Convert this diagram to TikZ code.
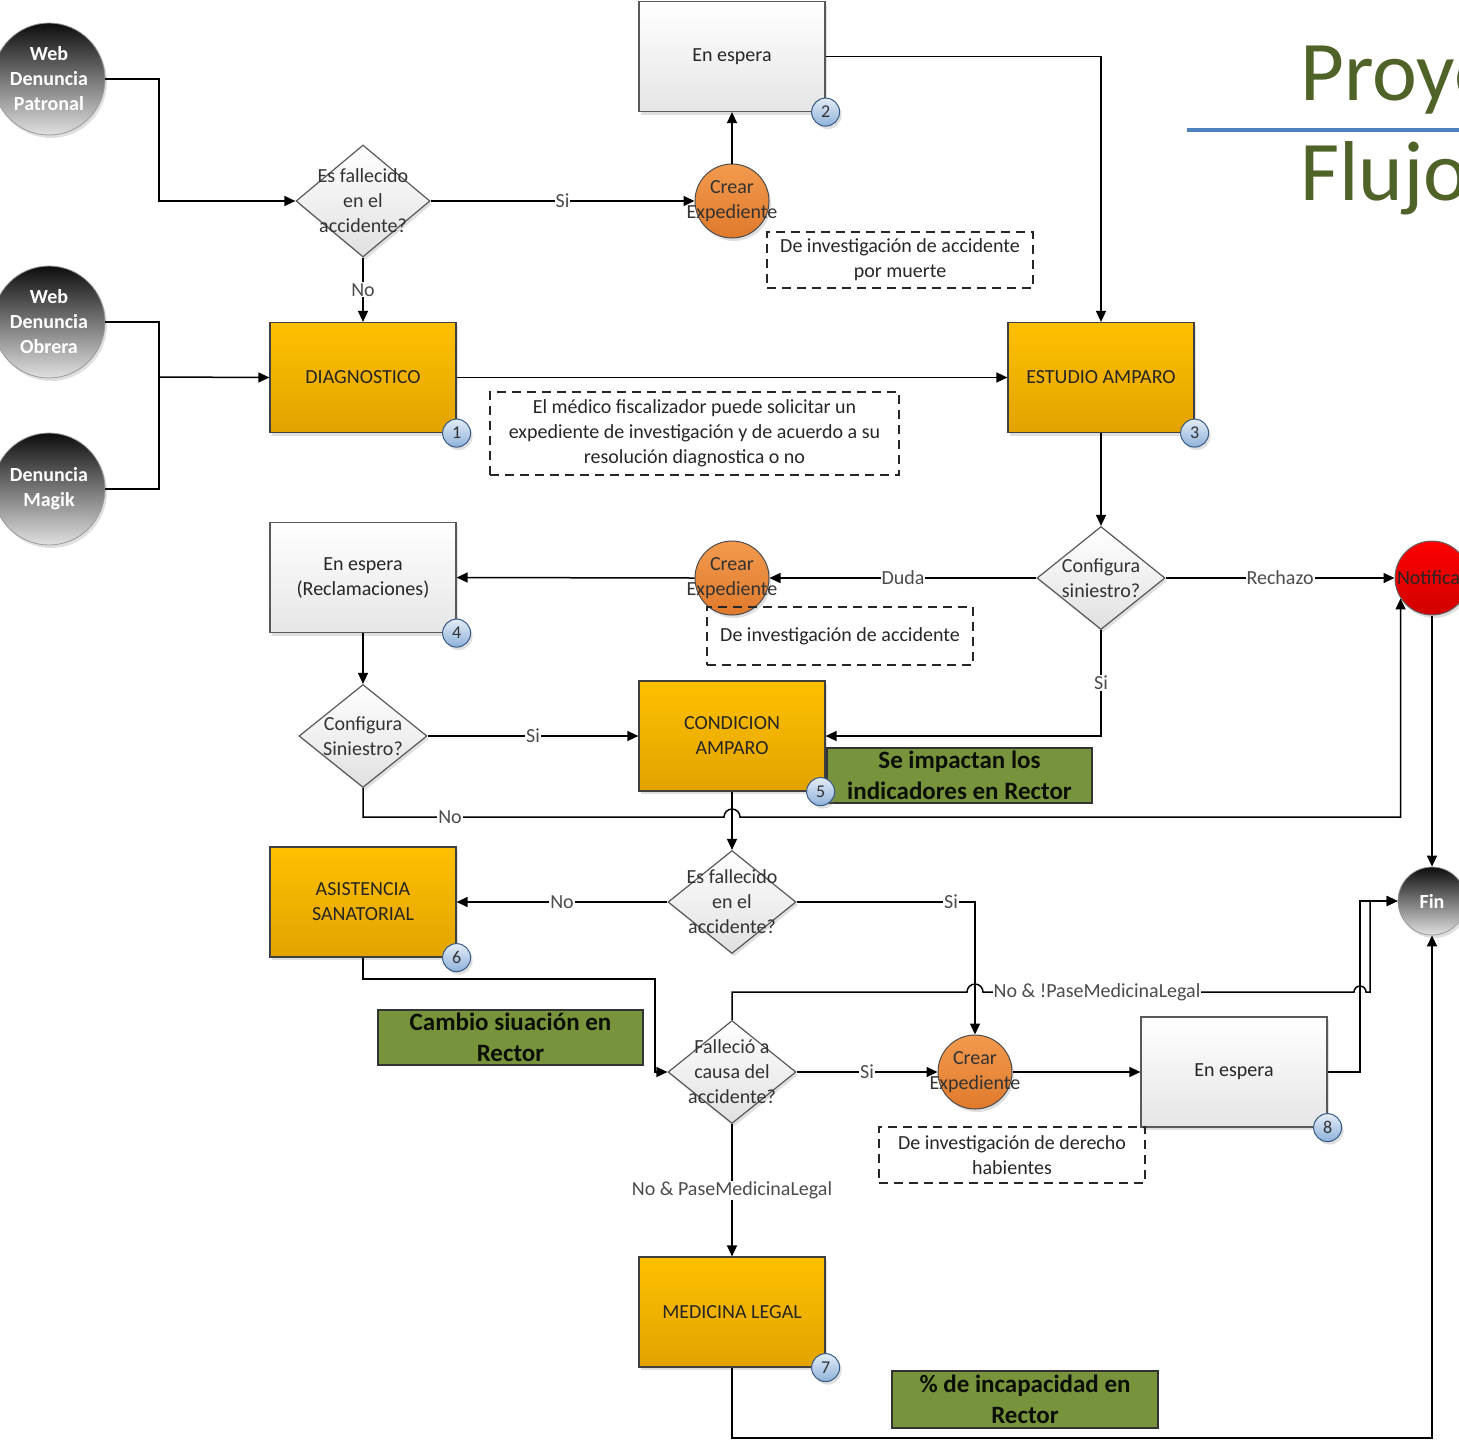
\documentclass[tikz,border=0pt]{standalone}
\usepackage{fontspec}
\setmainfont{Carlito}
\usetikzlibrary{arrows.meta,positioning,shapes.geometric,shadows}

\definecolor{golda}{HTML}{FFC000}
\definecolor{goldb}{HTML}{E2A300}
\definecolor{expa}{HTML}{F29A4E}
\definecolor{expb}{HTML}{E07A2C}
\definecolor{olive}{HTML}{77933C}
\definecolor{titlegreen}{HTML}{4F6228}
\definecolor{rulebl}{HTML}{4F81BD}
\definecolor{badgea}{HTML}{E3ECF6}
\definecolor{badgeb}{HTML}{8EB2DA}

\begin{document}
\begin{tikzpicture}[x=1pt,y=-1pt,->,>={Triangle[length=11pt,width=10pt]},
                    line width=1.5pt,font=\fontsize{20}{25}\selectfont]
  \tikzstyle{shad}=[drop shadow={shadow xshift=2pt,shadow yshift=-3pt,opacity=0.25}]
  \tikzstyle{proc}=[rectangle,draw=black!75,line width=1.2pt,top color=golda,bottom color=goldb,
                    minimum width=186pt,minimum height=110pt,align=center,text=black!85,shad]
  \tikzstyle{wait}=[rectangle,draw=black!65,line width=1.2pt,top color=white,bottom color=black!10,
                    minimum width=186pt,minimum height=110pt,align=center,text=black!85,shad]
  \tikzstyle{decision}=[diamond,draw=black!65,line width=1.2pt,top color=white,bottom color=black!12,
                        inner sep=0pt,minimum width=128pt,minimum height=103pt,shad]
  \tikzstyle{expcircle}=[circle,draw=black!70,line width=1pt,top color=expa,bottom color=expb,
                         minimum size=74pt,inner sep=0pt,shad]
  \tikzstyle{startnode}=[circle,draw=black!40,line width=0.8pt,top color=black!95,bottom color=black!12,
                         minimum size=112pt,inner sep=0pt,text=white,align=center,font=\bfseries\fontsize{20}{25}\selectfont,shad]
  \tikzstyle{note}=[rectangle,draw=black!85,dash pattern=on 9pt off 6pt,line width=1.5pt,align=center,text=black!85]
  \tikzstyle{rector}=[rectangle,draw=black!80,line width=1.5pt,fill=olive,align=center,
                      text=black!90!olive,font=\bfseries\fontsize{25}{31}\selectfont]
  \tikzstyle{badge}=[circle,draw=rulebl!70!black,line width=1pt,top color=badgea,bottom color=badgeb,
                     minimum size=28pt,inner sep=0pt,text=black!80,font=\fontsize{18}{18}\selectfont,shad]
  \tikzstyle{lbl}=[fill=white,inner sep=1pt,text=black!70]
  \tikzstyle{intext}=[align=center,text=black!80]

  \path[use as bounding box] (0,0) rectangle (1459,1441);
  \clip (0,0) rectangle (1459,1441);

  % title
  \node[anchor=base west,text=titlegreen,font=\fontsize{85}{85}\selectfont] (ttl1) at (1296,100) {Proyecto};
  \node[anchor=base west,text=titlegreen,font=\fontsize{85}{85}\selectfont] (ttl2) at (1296,200) {Flujo};
  \draw[-,rulebl,line width=4pt] (1187,130) -- (1459,130);

  % entradas
  \node[startnode] (wp) at (49,79)  {Web\\Denuncia\\Patronal};
  \node[startnode] (wo) at (49,322) {Web\\Denuncia\\Obrera};
  \node[startnode] (wm) at (49,489) {Denuncia\\Magik};
  \coordinate (jn) at (159,377);

  \node[decision,minimum width=134pt,minimum height=112pt,
        label={[intext]center:Es fallecido\\en el\\accidente?}] (dec1) at (363,201) {};
  \node[expcircle,label={[intext]center:Crear\\Expediente}] (ce1) at (732,201) {};
  \node[wait] (esp2) at (732,56.5) {En espera};
  \node[note,minimum width=266pt,minimum height=56pt] (n1) at (900,260)
        {De investigación de accidente\\por muerte};

  \node[proc] (diag)  at (363,377.5)  {DIAGNOSTICO};
  \node[proc] (estud) at (1101,377.5) {ESTUDIO AMPARO};
  \node[note,minimum width=409pt,minimum height=83pt] (n2) at (694.5,433.5)
        {El médico fiscalizador puede solicitar un\\expediente de investigación y de acuerdo a su\\resolución diagnostica o no};

  \node[decision,label={[intext]center:Configura\\siniestro?}] (dec2) at (1101,578) {};
  \node[expcircle,label={[intext]center:Crear\\Expediente}] (ce2) at (732,578) {};
  \node[wait] (esp4) at (363,577.5) {En espera\\(Reclamaciones)};
  \node[note,minimum width=266pt,minimum height=58pt] (n3) at (840,636) {De investigación de accidente};
  \node[circle,draw=black!60,line width=1pt,top color=red,bottom color=red!82!black,minimum size=74pt,
        inner sep=0pt,shad,label={[intext,text=black!85]center:Notificar}] (notif) at (1432,578) {};

  \node[decision,label={[intext]center:Configura\\Siniestro?}] (dec3) at (363,736) {};
  \node[proc] (cond) at (732,736) {CONDICION\\AMPARO};
  \node[rector,minimum width=265pt,minimum height=55pt] (g1) at (959.5,775.5) {Se impactan los\\indicadores en Rector};

  \node[decision,label={[intext]center:Es fallecido\\en el\\accidente?}] (dec4) at (732,902) {};
  \node[proc] (asist) at (363,902) {ASISTENCIA\\SANATORIAL};
  \node[startnode,minimum size=68pt] (fin) at (1432,901) {Fin};

  \node[rector,minimum width=265pt,minimum height=55pt] (g2) at (510.5,1037.5) {Cambio siuación en\\Rector};
  \node[decision,label={[intext]center:Falleció a\\causa del\\accidente?}] (dec5) at (732,1072) {};
  \node[expcircle,label={[intext]center:Crear\\Expediente}] (ce3) at (975,1072) {};
  \node[wait] (esp8) at (1234,1072) {En espera};
  \node[note,minimum width=266pt,minimum height=56pt] (n4) at (1012,1155) {De investigación de derecho\\habientes};

  \node[proc] (medleg) at (732,1312) {MEDICINA LEGAL};
  \node[rector,minimum width=266pt,minimum height=57pt] (g3) at (1025,1399.5) {\% de incapacidad en\\Rector};

  % numeros
  \node[badge] (b1) at (diag.south east)   {1};
  \node[badge] (b2) at (esp2.south east)   {2};
  \node[badge] (b3) at (estud.south east)  {3};
  \node[badge] (b4) at (esp4.south east)   {4};
  \node[badge] (b5) at ([xshift=-5pt]cond.south east) {5};
  \node[badge] (b6) at (asist.south east)  {6};
  \node[badge] (b7) at (medleg.south east) {7};
  \node[badge] (b8) at (esp8.south east)   {8};

  % conectores
  \draw (wp.east) -- (159,79) |- (dec1.west);
  \draw[-] (wo.east) -| (jn);
  \draw[-] (wm.east) -| (jn);
  \draw (jn) -- (diag.west);

  \path (dec1.east)  edge node[lbl] {Si} (ce1.west)
        (dec1.south) edge node[lbl] {No} (diag.north)
        (ce1.north)  edge (esp2.south)
        (diag.east)  edge (estud.west)
        (estud.south) edge (dec2.north)
        (dec2.west)  edge node[lbl] {Duda} (ce2.east)
        (ce2.west)   edge (esp4.east)
        (dec2.east)  edge node[lbl] {Rechazo} (notif.west)
        (esp4.south) edge (dec3.north)
        (dec3.east)  edge node[lbl] {Si} (cond.west)
        (cond.south) edge (dec4.north)
        (dec4.west)  edge node[lbl] {No} (asist.east)
        (dec5.east)  edge node[lbl] {Si} (ce3.west)
        (ce3.east)   edge (esp8.west)
        (dec5.south) edge node[lbl] {No \& PaseMedicinaLegal} (medleg.north)
        (notif.south) edge (fin.north);

  \draw (esp2.east) -| (estud.north);
  \draw (dec2.south) |- node[lbl,pos=0.25] {Si} (cond.east);
  \draw (dec3.south) -- (363,817) -- (450,817) node[lbl] {No} -- (724,817)
        arc[start angle=180,end angle=0,radius=8pt] -| (notif.-147);
  \draw (dec4.east) -- (951,902) node[lbl] {Si} -| (ce3.north);
  \draw (asist.south) -- (363,979) -- (655,979) |- (dec5.west);
  \draw (dec5.north) -- (732,992) -- (967,992) arc[start angle=180,end angle=0,radius=8pt]
        -- (1097,992) node[lbl] {No \& !PaseMedicinaLegal} -- (1354,992)
        arc[start angle=180,end angle=0,radius=6pt] -- (1370,992) |- (fin.west);
  \draw (esp8.east) -- (1360,1072) |- (fin.west);
  \draw (medleg.south) -- (732,1438) -| (fin.south);
\end{tikzpicture}
\end{document}
